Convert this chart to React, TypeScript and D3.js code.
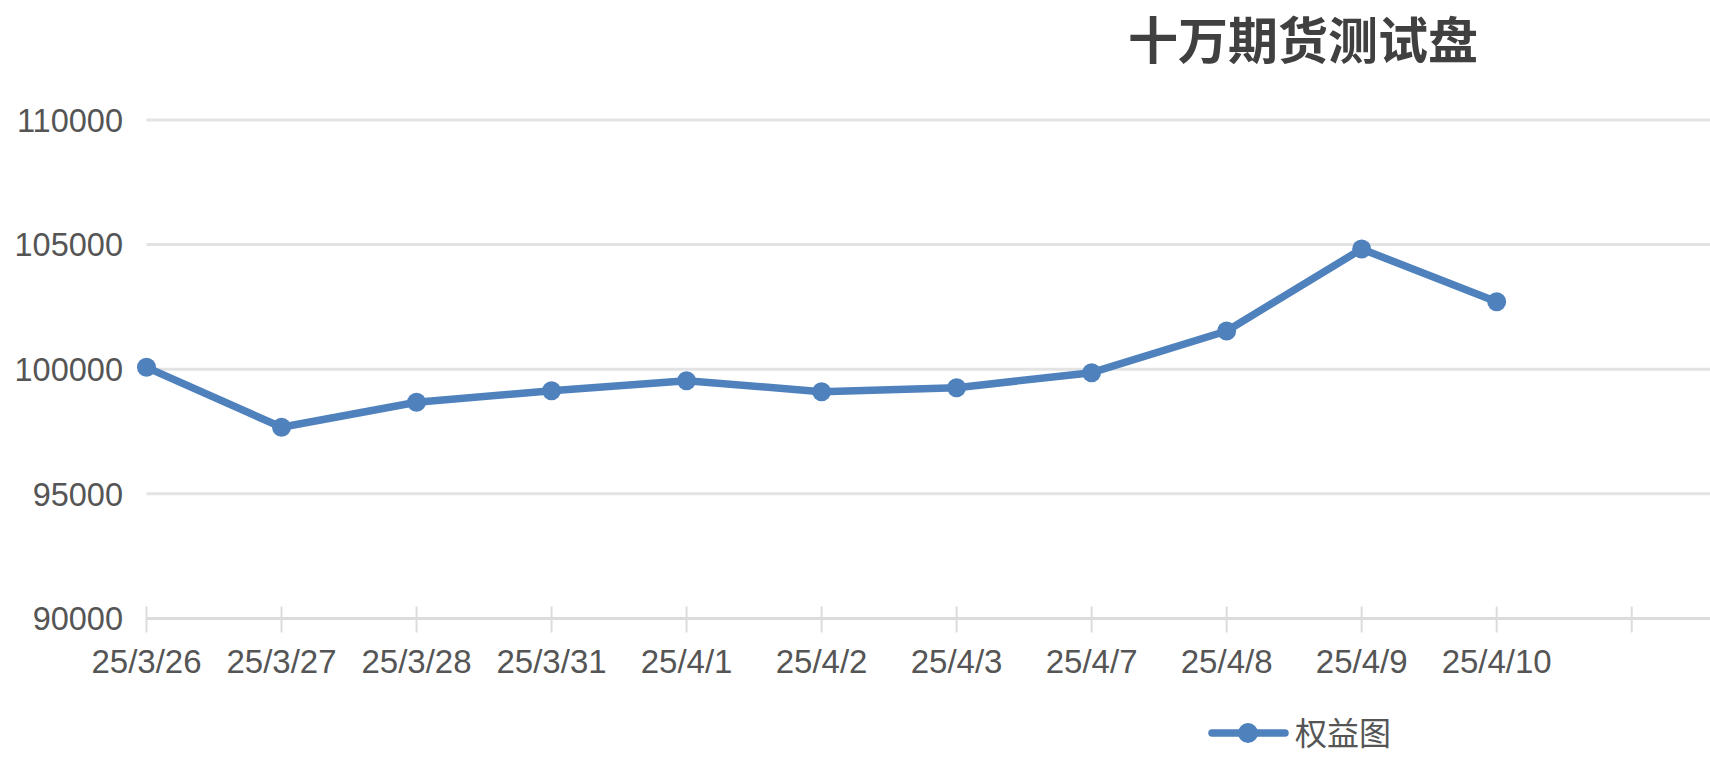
import * as d3 from 'd3'

const TITLE = '十万期货测试盘'
const SERIES_NAME = '权益图'
const categories = ['25/3/26', '25/3/27', '25/3/28', '25/3/31', '25/4/1', '25/4/2', '25/4/3', '25/4/7', '25/4/8', '25/4/9', '25/4/10']
const values = [100076, 97669, 98672, 99137, 99539, 99097, 99258, 99860, 101533, 104823, 102709]
const yTicks = [90000, 95000, 100000, 105000, 110000]

const W = 1710
const H = 772
const BLUE = '#4f81bd'
const GRID = '#e3e3e3'
const TEXT = '#555555'
const LATIN = '"Liberation Sans", Arial, Helvetica, sans-serif'
const CJK = '"Noto Sans CJK SC", sans-serif'

export default function App() {
  // one spare slot after the last date, like the source chart
  const slots = [...categories, '__end']
  const x = d3.scalePoint<string>().domain(slots).range([146.5, 1631.7])
  const y = d3.scaleLinear().domain([90000, 110000]).range([618.4, 120])

  const line = d3.line<number>()
    .x((_, i) => x(categories[i]) as number)
    .y(d => y(d))

  return (
    <svg width={W} height={H} style={{ position: 'absolute', left: 0, top: 0, background: '#fff' }}>
      {/* title */}
      <text x={1303} y={59} textAnchor="middle" fontFamily={CJK} fontWeight={700}
        fontSize={50} fill="#404040">{TITLE}</text>

      {/* gridlines + y labels */}
      {yTicks.map(t => (
        <g key={t}>
          <line x1={146.5} x2={W} y1={y(t)} y2={y(t)} stroke={GRID} strokeWidth={3} />
          <text x={123} y={y(t)} dy="0.36em" textAnchor="end" fontFamily={LATIN}
            fontSize={32.5} fill={TEXT}>{t}</text>
        </g>
      ))}

      {/* x axis */}
      <line x1={146.5} x2={W} y1={y(90000)} y2={y(90000)} stroke="#dcdcdc" strokeWidth={3} />
      {slots.map(s => (
        <line key={s} x1={x(s)} x2={x(s)} y1={606.5} y2={632.5} stroke="#dcdcdc" strokeWidth={2} />
      ))}
      {categories.map(c => (
        <text key={c} x={x(c)} y={673} textAnchor="middle" fontFamily={LATIN}
          fontSize={33} fill={TEXT}>{c}</text>
      ))}

      {/* series */}
      <path d={line(values) || ''} fill="none" stroke={BLUE} strokeWidth={7.5}
        strokeLinejoin="round" strokeLinecap="round" />
      {values.map((v, i) => (
        <circle key={i} cx={x(categories[i])} cy={y(v)} r={9.5} fill={BLUE} />
      ))}

      {/* legend */}
      <line x1={1212} x2={1285} y1={733} y2={733} stroke={BLUE} strokeWidth={7.5} strokeLinecap="round" />
      <circle cx={1248} cy={733} r={10} fill={BLUE} />
      <text x={1295} y={745} fontFamily={CJK} fontSize={32} fill={TEXT}>{SERIES_NAME}</text>
    </svg>
  )
}
